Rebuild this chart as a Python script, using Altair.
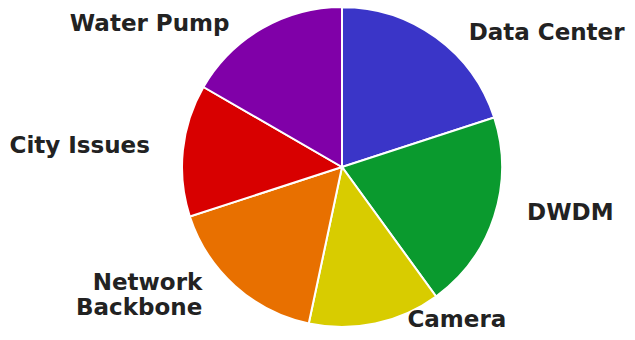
import altair as alt
import pandas as pd

categories = ["Data Center", "DWDM", "Camera", "Network Backbone", "City Issues", "Water Pump"]
labels = ["Data Center", "DWDM", "Camera", "Network\nBackbone", "City Issues", "Water Pump"]
values = [6, 6, 4, 5, 4, 5]
colors = ["#3a35c8", "#0a9a2e", "#d8cc00", "#e87000", "#d80000", "#8000a8"]

df = pd.DataFrame({
    "category": categories,
    "label": labels,
    "value": values,
    "order": list(range(len(categories))),
})

base = alt.Chart(df).encode(
    theta=alt.Theta("value:Q", stack=True),
    order=alt.Order("order:Q"),
    x=alt.value(334),
    y=alt.value(159),
)

pie = base.mark_arc(outerRadius=160, stroke="white", strokeWidth=2).encode(
    color=alt.Color("category:N", scale=alt.Scale(domain=categories, range=colors), legend=None),
)

text = (
    base.transform_joinaggregate(total="sum(value)")
    .transform_window(cum="sum(value)", sort=[alt.SortField("order")], frame=[None, 0])
    .transform_calculate(side="datum.cum - datum.value / 2 < datum.total / 2 ? 'left' : 'right'")
    .mark_text(
        radius=161,
        font="DejaVu Sans",
        fontWeight="bold",
        fontSize=23,
        color="#222222",
        baseline="middle",
        lineBreak="\n",
        align=alt.expr("datum.side"),
        dx=alt.expr("datum.side == 'left' ? 32 : -32"),
        dy=-4,
    )
    .encode(text="label:N", detail="category:N")
)

chart = (
    alt.layer(pie, text)
    .properties(width=619, height=324, padding=0, autosize=alt.AutoSizeParams(type="none"))
    .configure_view(strokeWidth=0)
)

chart.save("out.html", embed_options={"renderer": "svg", "actions": False})
